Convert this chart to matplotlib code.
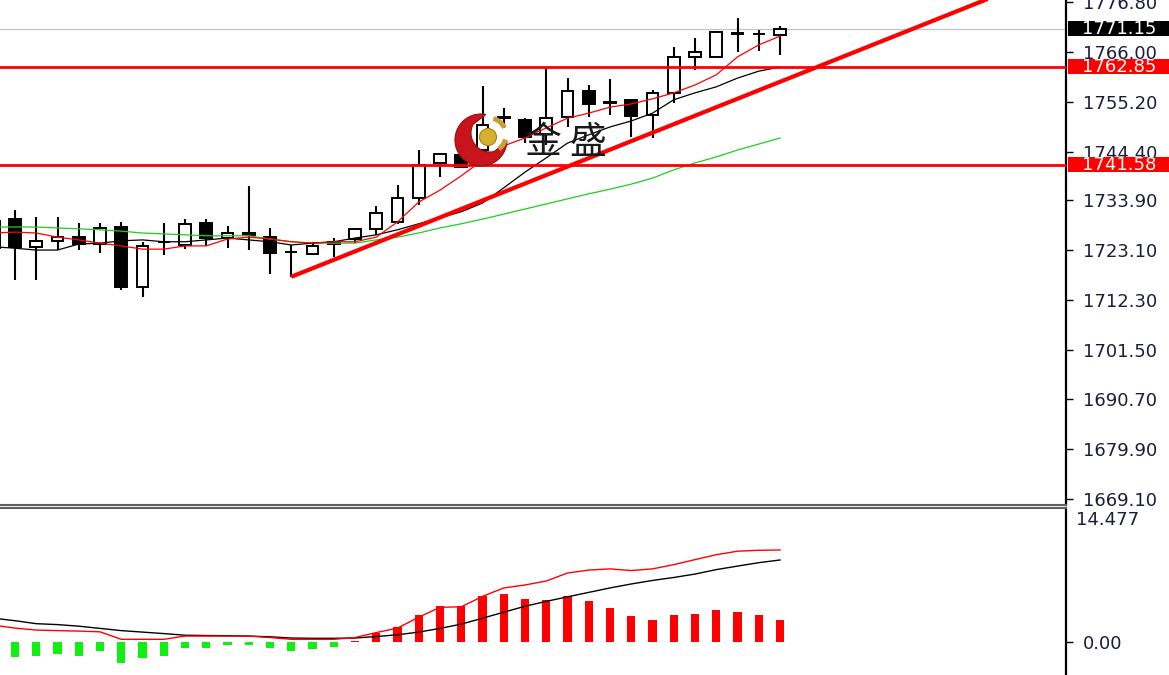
import numpy as np
import matplotlib
matplotlib.use('Agg')
import matplotlib.pyplot as plt
from matplotlib.patches import Rectangle, Polygon, Circle, Arc
from matplotlib.transforms import blended_transform_factory

# ---------------- data ----------------
opens = [1729.5, 1729.8, 1723.8, 1725.1, 1725.9, 1724.4, 1728.1, 1715.1, 1724.8, 1724.2,
         1729.0, 1725.7, 1726.8, 1725.9, 1722.7, 1722.2, 1724.4, 1725.5, 1727.7, 1729.2,
         1734.4, 1742.0, 1743.7, 1744.8, 1751.7, 1751.3, 1748.2, 1752.0, 1757.6, 1755.0,
         1755.7, 1752.4, 1757.2, 1765.0, 1765.0, 1770.0, 1770.0, 1769.8]
highs = [1731.0, 1731.8, 1730.3, 1730.3, 1729.0, 1729.0, 1729.2, 1724.8, 1729.0, 1729.8,
         1729.8, 1728.3, 1737.0, 1727.9, 1724.2, 1724.8, 1725.7, 1727.9, 1732.7, 1737.2,
         1744.8, 1744.2, 1744.8, 1758.7, 1753.9, 1751.7, 1762.6, 1760.4, 1758.9, 1760.2,
         1755.7, 1757.8, 1767.1, 1769.1, 1770.6, 1773.4, 1770.8, 1771.7]
lows = [1721.6, 1716.6, 1716.6, 1723.1, 1723.1, 1722.5, 1714.4, 1712.9, 1722.0, 1723.3,
        1724.0, 1723.5, 1723.1, 1717.9, 1717.3, 1722.2, 1721.6, 1724.6, 1726.4, 1728.8,
        1732.9, 1738.9, 1740.9, 1744.4, 1749.6, 1746.3, 1745.9, 1749.8, 1752.0, 1752.4,
        1747.6, 1747.4, 1755.0, 1762.2, 1764.8, 1766.1, 1766.3, 1765.4]
closes = [1723.5, 1723.8, 1725.1, 1725.9, 1724.4, 1727.9, 1715.1, 1724.0, 1724.9, 1728.8,
          1725.7, 1726.8, 1726.4, 1722.5, 1722.6, 1724.0, 1724.8, 1727.7, 1731.1, 1734.4,
          1741.6, 1743.9, 1741.1, 1750.2, 1751.9, 1747.6, 1751.7, 1757.6, 1754.8, 1755.1,
          1752.2, 1757.2, 1765.0, 1766.1, 1770.4, 1770.1, 1769.9, 1771.15]

ma_fast = [1726.8, 1727.0, 1726.8, 1725.9, 1725.3, 1724.6, 1724.0, 1723.3, 1723.3, 1724.0,
           1724.0, 1725.5, 1725.9, 1725.5, 1724.9, 1724.6, 1724.9, 1724.9, 1725.9, 1729.2,
           1733.5, 1736.1, 1739.2, 1742.6, 1745.7, 1747.4, 1749.6, 1751.7, 1752.8, 1754.1,
           1754.8, 1755.9, 1757.2, 1758.9, 1761.1, 1765.0, 1767.6, 1769.5]
ma_mid = [1723.8, 1723.5, 1723.1, 1723.1, 1724.4, 1724.6, 1725.1, 1725.3, 1724.9, 1724.9,
          1725.3, 1725.7, 1725.3, 1724.9, 1724.2, 1724.6, 1724.9, 1725.7, 1726.4, 1727.5,
          1728.8, 1730.1, 1731.4, 1733.3, 1736.6, 1740.0, 1743.1, 1746.3, 1748.1, 1749.8,
          1751.1, 1752.8, 1755.7, 1757.2, 1758.5, 1760.4, 1761.9, 1762.8]
ma_slow = [1728.1, 1728.1, 1728.1, 1727.9, 1727.7, 1727.5, 1727.2, 1726.8, 1726.6, 1726.4,
           1726.2, 1726.2, 1726.2, 1725.5, 1724.9, 1724.6, 1724.6, 1724.6, 1725.3, 1725.9,
           1726.8, 1727.9, 1728.8, 1729.8, 1730.9, 1732.0, 1733.1, 1734.2, 1735.3, 1736.3,
           1737.4, 1738.7, 1740.5, 1742.0, 1743.3, 1744.8, 1746.1, 1747.4]

macd_hist = [-1.50, -1.58, -1.47, -1.29, -1.47, -0.93, -2.28, -1.75, -1.47, -0.61,
             -0.61, -0.32, -0.32, -0.61, -0.93, -0.78, -0.50, 0.08, 0.93, 1.64,
             2.89, 3.86, 3.86, 4.93, 5.22, 4.68, 4.57, 4.93, 4.39, 3.72,
             2.79, 2.43, 2.89, 3.07, 3.43, 3.25, 2.89, 2.43]
macd_black = [2.57, 2.30, 1.98, 1.88, 1.71, 1.47, 1.23, 1.07, 0.91, 0.73,
              0.70, 0.68, 0.64, 0.56, 0.43, 0.40, 0.40, 0.43, 0.59, 0.78,
              1.07, 1.47, 1.93, 2.57, 3.22, 3.86, 4.39, 4.88, 5.36, 5.84,
              6.27, 6.65, 6.97, 7.34, 7.82, 8.20, 8.57, 8.86]
macd_red = [1.82, 1.50, 1.29, 1.23, 1.18, 1.10, 0.29, 0.29, 0.29, 0.64,
            0.64, 0.64, 0.64, 0.48, 0.29, 0.29, 0.29, 0.48, 1.02, 1.50,
            2.68, 3.75, 3.80, 4.93, 5.84, 6.16, 6.59, 7.45, 7.77, 7.90,
            7.72, 7.90, 8.36, 8.90, 9.43, 9.81, 9.91, 9.94]

price_ticks = [1669.10, 1679.90, 1690.70, 1701.50, 1712.30, 1723.10, 1733.90,
               1744.40, 1755.20, 1766.00, 1776.80]
levels = [1762.85, 1741.58]
last_price = 1771.15
trend_x = [14, 50]
trend_y = [1717.3, 1783.5]
macd_top = 14.477

# ---------------- figure ----------------
W, H = 1169, 675
fig = plt.figure(figsize=(W / 100, H / 100), dpi=100)
ax = fig.add_axes([0, (H - 505) / H, 1066 / W, 505 / H])
ax2 = fig.add_axes([0, 0, 1066 / W, (H - 508) / H])

n = len(opens)
x = np.arange(n)
PX = 21.25
for a in (ax, ax2):
    a.set_xlim(1 - 15 / PX, 1 + (1066 - 15) / PX)
    a.set_xticks([])
    a.spines['left'].set_visible(False)
    a.spines['right'].set_color('black')
    a.spines['right'].set_linewidth(1.6)

ax.set_ylim(1667.80, 1777.34)
ax.spines['top'].set_visible(False)
ax.spines['bottom'].set_color('#606060')
ax.spines['bottom'].set_linewidth(1.5)
ax2.spines['bottom'].set_visible(False)
ax2.spines['top'].set_color('#606060')
ax2.spines['top'].set_linewidth(1.5)

o = np.array(opens); c = np.array(closes)
# candles
ax.vlines(x, lows, highs, color='black', lw=1.5, zorder=2)
bottoms = np.minimum(o, c)
heights = np.maximum(np.abs(c - o), 0.12)
fc = ['white' if cc >= oo else 'black' for oo, cc in zip(o, c)]
ax.bar(x, heights, bottom=bottoms, width=0.55, color=fc, edgecolor='black',
       linewidth=1.4, zorder=3)

# moving averages
ax.plot(x, ma_slow, color='#22cc22', lw=0.9, zorder=4)
ax.plot(x, ma_mid, color='black', lw=0.9, zorder=4)
ax.plot(x, ma_fast, color='#ff0000', lw=0.9, zorder=4)

# levels, trend line, last price
ax.axhline(last_price, color='#c4c4c4', lw=0.9, zorder=1)
for lv in levels:
    ax.axhline(lv, color='#ff0000', lw=2.0, zorder=5)
ax.plot(trend_x, trend_y, color='#ff0000', lw=3.0, zorder=5, solid_capstyle='butt')

# y axis (right)
label_color = '#1c1c3c'
ax.yaxis.tick_right()
ax.set_yticks(price_ticks)
ax.set_yticklabels([f'{t:.2f}' for t in price_ticks])
ax.tick_params(axis='y', direction='out', length=5, width=1, pad=7,
               labelsize=13, labelcolor=label_color, color='black')

trans = blended_transform_factory(fig.transFigure, ax.transData)
for val, col in [(last_price, 'black'), (levels[0], '#ff0000'), (levels[1], '#ff0000')]:
    ax.add_patch(Rectangle((1068 / W, val - 1.6), (W - 1068) / W, 3.2, transform=trans,
                           facecolor=col, edgecolor='none', clip_on=False, zorder=6))
    ax.text(1082 / W, val, f'{val:.2f}', transform=trans, color='white', fontsize=13,
            va='center', ha='left', zorder=7, clip_on=False)

# ---------------- MACD panel ----------------
ax2.set_ylim(-3.565, macd_top)
bar_cols = ['#ff0000' if v > 0 else '#11ee11' for v in macd_hist]
ax2.bar(x, macd_hist, width=0.38, color=bar_cols, zorder=2)
ax2.plot(x, macd_black, color='black', lw=1.0, zorder=3)
ax2.plot(x, macd_red, color='#ff0000', lw=1.0, zorder=3)
ax2.yaxis.tick_right()
ax2.set_yticks([0])
ax2.set_yticklabels(['0.00'])
ax2.tick_params(axis='y', direction='out', length=5, width=1, pad=7,
                labelsize=13, labelcolor=label_color, color='black')
trans2 = blended_transform_factory(fig.transFigure, ax2.transAxes)
ax2.text(1076 / W, 0.985, f'{macd_top:.3f}', transform=trans2, color=label_color,
         fontsize=13, va='top', ha='left', clip_on=False)

# ---------------- logo overlay ----------------
axo = fig.add_axes([0, 0, 1, 1], zorder=10)
axo.set_xlim(0, W)
axo.set_ylim(H, 0)
axo.axis('off')
axo.patch.set_alpha(0)

cc1 = np.array([481.0, 140.0]); R = 26.0
cc2 = np.array([490.0, 133.0]); r2 = 19.0
d = np.hypot(*(cc2 - cc1))
phi = np.arctan2(cc2[1] - cc1[1], cc2[0] - cc1[0])
alpha = np.arccos((R**2 + d**2 - r2**2) / (2 * R * d))
beta = np.arccos((r2**2 + d**2 - R**2) / (2 * r2 * d))
t_out = np.linspace(phi + alpha, phi + 2 * np.pi - alpha, 120)
t_in = np.linspace(phi + 2 * np.pi - beta, phi + beta, 80)
pts = np.vstack([np.c_[cc1[0] + R * np.cos(t_out), cc1[1] + R * np.sin(t_out)],
                 np.c_[cc2[0] + r2 * np.cos(t_in), cc2[1] + r2 * np.sin(t_in)]])
axo.add_patch(Polygon(pts, closed=True, facecolor='#c8141c', edgecolor='#9a0c10', lw=0.8))
axo.add_patch(Circle((488, 137), 8.5, facecolor='#d8b030', edgecolor='#a88018', lw=0.8))
axo.add_patch(Arc((489, 135), 34, 34, theta1=285, theta2=335, color='#c9a030', lw=3.5))
axo.add_patch(Arc((489, 135), 34, 34, theta1=15, theta2=55, color='#c9a030', lw=3.5))
axo.text(566, 143, '金 盛', fontsize=26.5, family=['Noto Sans CJK SC', 'DejaVu Sans'],
         ha='center', va='center', color='#1a1a1a')

fig.savefig('out.png', dpi=100)
